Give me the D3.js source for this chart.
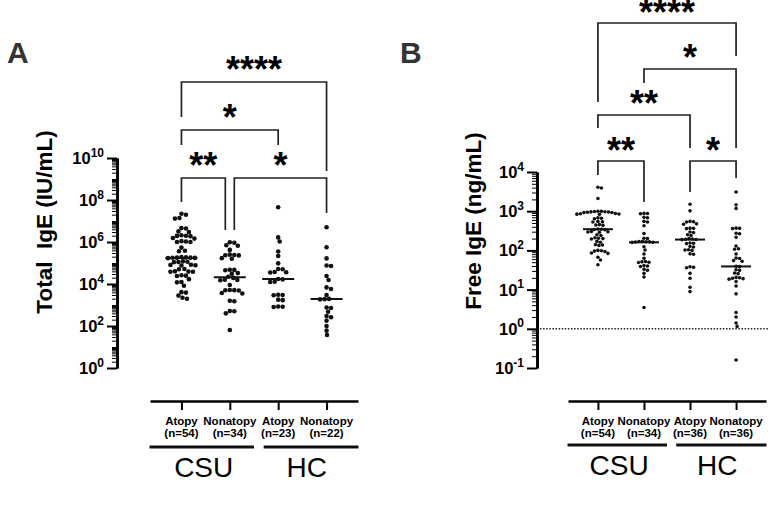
<!DOCTYPE html>
<html>
<head>
<meta charset="utf-8">
<script src="https://cdn.jsdelivr.net/npm/d3@7"></script>
<style>
  body { margin: 0; background: #fff; }
  svg { font-family: "Liberation Sans", Arial, Helvetica, sans-serif; }
</style>
</head>
<body>
<svg id="chart" width="768" height="505"></svg>
<script>
// categories and labels
var cats = ["csuAtopy", "csuNonatopy", "hcAtopy", "hcNonatopy"];
var catNames = ["Atopy", "Nonatopy", "Atopy", "Nonatopy"];
var nTotal = ["(n=54)", "(n=34)", "(n=23)", "(n=22)"];
var nFree = ["(n=54)", "(n=34)", "(n=36)", "(n=36)"];
var groups = ["CSU", "HC"];

// panel A - total IgE (IU/mL)
var totalCsuAtopy = [2.2e7, 2.0e7, 1.4e7, 1.3e7, 4.6e6, 4.4e6, 3.2e6, 3.0e6, 2.1e6, 2.0e6, 1.95e6, 1.9e6,
  1.55e6, 1.45e6, 1.1e6, 1.05e6, 1.0e6, 1.0e6, 5.4e5, 3.8e5, 3.6e5, 1.9e5, 1.85e5, 1.8e5, 1.8e5, 1.78e5,
  1.75e5, 1.7e5, 1.2e5, 1.15e5, 1.12e5, 1.1e5, 8.2e4, 8.0e4, 7.8e4, 7.6e4, 5.2e4, 5.0e4, 4.0e4, 3.9e4,
  3.85e4, 3.8e4, 2.6e4, 2.5e4, 2.4e4, 1.7e4, 1.25e4, 1.2e4, 8.3e3, 4.1e3, 3.9e3, 2.8e3, 2.2e3, 2.0e3];
var totalCsuNonatopy = [9.8e5, 9.2e5, 7.0e5, 6.6e5, 4.2e5, 2.5e5, 2.4e5, 2.35e5, 2.3e5, 1.7e5, 1.6e5,
  4.8e4, 4.7e4, 4.5e4, 3.3e4, 3.1e4, 2.2e4, 1.95e4, 1.6e4, 1.55e4, 1.5e4, 8.9e3, 5.2e3, 5.1e3, 5.0e3,
  4.9e3, 3.7e3, 3.5e3, 1.6e3, 1.5e3, 520, 500, 400, 65];
var totalHcAtopy = [4.5e7, 1.66e6, 1.05e6, 3.5e5, 2.15e5, 9.6e4, 5.2e4, 5.0e4, 3.7e4, 3.6e4, 3.5e4,
  1.74e4, 1.66e4, 1.29e4, 1.25e4, 3.1e3, 3.0e3, 2.9e3, 1.8e3, 1.7e3, 850, 830, 800];
var totalHcNonatopy = [5.0e6, 5.6e5, 1.66e5, 7.6e4, 7.2e4, 2.4e4, 1.55e4, 6.9e3, 5.8e3, 3.0e3, 1.95e3,
  1.9e3, 1.85e3, 760, 720, 480, 300, 260, 180, 100, 60, 37];

// panel B - free IgE (ng/mL)
var freeCsuAtopy = [4100, 3900, 2100, 1000, 990, 980, 970, 960, 950, 940, 930, 920, 870, 860, 850, 840,
  830, 680, 660, 640, 550, 540, 530, 455, 445, 435, 350, 345, 340, 335, 305, 300, 295, 290, 250, 240,
  210, 205, 200, 195, 170, 162, 140, 137, 134, 100, 98, 96, 94, 86, 84, 67, 57, 43];
var freeCsuNonatopy = [880, 870, 860, 700, 680, 550, 530, 425, 270, 205, 200, 170, 168, 166, 165, 164,
  162, 160, 124, 102, 81, 63, 52, 51, 50, 49, 41, 40, 39, 33, 31, 26, 21, 3.5];
var freeHcAtopy = [1500, 1020, 550, 540, 530, 475, 465, 370, 365, 360, 295, 285, 250, 240, 200, 195,
  192, 190, 188, 155, 152, 149, 126, 122, 104, 102, 100, 82, 80, 38, 37, 36, 26, 19.5, 11.5, 8.9];
var freeHcNonatopy = [3100, 1450, 1170, 370, 365, 360, 275, 265, 215, 129, 110, 107, 81, 64, 62, 55,
  53, 39.5, 38.5, 32, 31, 26.5, 25.5, 20.5, 20, 19.5, 19, 18.5, 16, 12.4, 7.8, 2.6, 2.0, 1.4, 1.15, 0.16];

var totalTicks = [1, 1e2, 1e4, 1e6, 1e8, 1e10];
var freeTicks = [0.1, 1, 10, 100, 1000, 10000];

// comparisons: [from, to, label]
var compTotal = [[0, 1, "**"], [1, 3, "*"], [0, 2, "*"], [0, 3, "****"]];
var compFree = [[0, 1, "**"], [2, 3, "*"], [0, 2, "**"], [1, 3, "*"], [0, 3, "****"]];

var svg = d3.select("#chart");

// simple beeswarm: put each dot as close to the centre as it can go
function swarm(vals, y, cx, r) {
  var pts = vals.map(function (v) { return { v: v, y: y(v) }; })
    .sort(function (a, b) { return a.y - b.y; });
  var d = 2 * r * 0.96, placed = [];
  pts.forEach(function (p) {
    for (var k = 0; k < 400; k++) {
      var off = (k % 2 ? 1 : -1) * Math.ceil(k / 2) * 0.5;
      var ok = placed.every(function (q) {
        var dx = q.x - (cx + off), dy = q.y - p.y;
        return dx * dx + dy * dy >= d * d;
      });
      if (ok) { p.x = cx + off; break; }
    }
    placed.push(p);
  });
  return placed;
}

function panel(o) {
  var g = svg.append("g");
  var y = d3.scaleLog().domain(o.domain).range([o.bottom, o.top]);
  var x = d3.scalePoint().domain(cats).range(o.xr).padding(0.65);
  var step = x.step();

  // minor ticks of the log axis
  var minors = [];
  var lo = Math.round(Math.log10(o.domain[0])), hi = Math.round(Math.log10(o.domain[1]));
  for (var k = lo; k < hi; k++) {
    for (var m = 2; m <= 9; m++) minors.push(m * Math.pow(10, k));
    if (o.ticks.indexOf(Math.pow(10, k)) < 0) minors.push(Math.pow(10, k));
  }

  var ya = g.append("g").attr("transform", "translate(" + o.axisX + ",0)");
  ya.call(d3.axisLeft(y).tickValues(minors).tickSize(5).tickSizeOuter(0).tickFormat(""));
  ya.selectAll(".tick line").attr("stroke-width", 1);
  var yb = g.append("g").attr("transform", "translate(" + o.axisX + ",0)");
  yb.call(d3.axisLeft(y).tickValues(o.ticks).tickSize(10).tickSizeOuter(0).tickFormat(""));
  yb.selectAll(".tick line").attr("stroke-width", 2);
  g.selectAll(".domain").attr("stroke-width", 2.6);

  o.ticks.forEach(function (v) {
    var t = g.append("text")
      .attr("x", o.axisX - 13).attr("y", y(v) + 6)
      .attr("text-anchor", "end").attr("font-weight", "bold").attr("font-size", 16.5);
    t.append("tspan").text("10");
    t.append("tspan").attr("dy", -7.5).attr("font-size", 12).text(Math.round(Math.log10(v)));
  });

  // axis title
  g.append("text")
    .attr("transform", "translate(" + o.titleX + "," + o.titleY + ") rotate(-90)")
    .attr("text-anchor", "middle").attr("dy", "0.35em")
    .attr("font-weight", "bold").attr("font-size", 22.5)
    .style("white-space", "pre")
    .text(o.title);

  // reference line
  if (o.refLine) {
    g.append("line")
      .attr("x1", o.axisX + 3).attr("x2", 768)
      .attr("y1", y(o.refLine)).attr("y2", y(o.refLine))
      .attr("stroke", "#222").attr("stroke-width", 1.5).attr("stroke-dasharray", "1.5 1.6");
  }

  // x axis
  var xa = g.append("g").attr("transform", "translate(0," + o.xAxisY + ")")
    .call(d3.axisBottom(x).tickSize(9).tickSizeOuter(0).tickFormat(""));
  xa.select(".domain").attr("stroke-width", 2.4);
  xa.selectAll(".tick line").attr("stroke-width", 2);

  cats.forEach(function (c, i) {
    g.append("text").attr("x", x(c)).attr("y", o.xAxisY + 24)
      .attr("text-anchor", "middle").attr("font-weight", "bold").attr("font-size", 11.5)
      .text(catNames[i]);
    g.append("text").attr("x", x(c)).attr("y", o.xAxisY + 36)
      .attr("text-anchor", "middle").attr("font-weight", "bold").attr("font-size", 11.5)
      .text(o.nLabels[i]);
  });

  // group lines under the axis
  groups.forEach(function (name, gi) {
    var a = x(cats[gi * 2]), b = x(cats[gi * 2 + 1]);
    var x0 = gi === 0 ? a - 0.66 * step : a - 0.3 * step;
    var x1 = gi === 0 ? b + 0.5 * step : b + 0.66 * step;
    g.append("line").attr("x1", x0).attr("x2", x1)
      .attr("y1", o.groupY).attr("y2", o.groupY)
      .attr("stroke", "#111").attr("stroke-width", 3);
    g.append("text").attr("x", ((x0 + x1) / 2 + (a + b) / 2) / 2).attr("y", o.groupY + 30)
      .attr("text-anchor", "middle").attr("font-size", 28)
      .text(name);
  });

  // dots and medians
  o.series.forEach(function (vals, i) {
    var cx = x(cats[i]);
    g.append("g").selectAll("circle")
      .data(swarm(vals, y, cx, o.r))
      .enter().append("circle")
      .attr("cx", function (d) { return d.x; })
      .attr("cy", function (d) { return d.y; })
      .attr("r", o.r)
      .attr("fill", "#111");
    var med = d3.median(vals);
    g.append("line")
      .attr("x1", cx - o.medW / 2).attr("x2", cx + o.medW / 2)
      .attr("y1", y(med)).attr("y2", y(med))
      .attr("stroke", "#111").attr("stroke-width", 2);
  });

  // significance brackets
  o.comps.forEach(function (c, i) {
    var L = o.bracketLayout[i];
    var xa0 = x(cats[c[0]]) + L.dx[0], xa1 = x(cats[c[1]]) + L.dx[1];
    g.append("path")
      .attr("d", "M" + xa0 + "," + L.leg[0] + "V" + L.y + "H" + xa1 + "V" + L.leg[1])
      .attr("fill", "none").attr("stroke", "#222").attr("stroke-width", 1.7);
    g.append("text")
      .attr("x", (xa0 + xa1) / 2).attr("y", L.sy + 17)
      .attr("text-anchor", "middle").attr("font-weight", "bold").attr("font-size", 36)
      .text(c[2]);
  });

  // panel letter
  g.append("text").attr("x", o.letterX).attr("y", 63)
    .attr("font-weight", "bold").attr("font-size", 30).attr("fill", "#333")
    .text(o.letter);
}

panel({
  letter: "A", letterX: 7,
  series: [totalCsuAtopy, totalCsuNonatopy, totalHcAtopy, totalHcNonatopy],
  domain: [1, 1e10], ticks: totalTicks, top: 158, bottom: 368, axisX: 117,
  xr: [150, 358], xAxisY: 401, groupY: 447, r: 2.3, medW: 32,
  title: "Total  IgE (IU/mL)", titleX: 44, titleY: 222,
  nLabels: nTotal, comps: compTotal,
  bracketLayout: [
    { y: 178, leg: [202, 230], dx: [0, -4.5], sy: 161 },
    { y: 178, leg: [230, 213], dx: [4.5, 0], sy: 161 },
    { y: 130, leg: [145, 145], dx: [0, 0], sy: 113 },
    { y: 82, leg: [117, 171], dx: [0, 0], sy: 65 }
  ]
});

panel({
  letter: "B", letterX: 400,
  series: [freeCsuAtopy, freeCsuNonatopy, freeHcAtopy, freeHcNonatopy],
  domain: [0.1, 1e4], ticks: freeTicks, top: 172, bottom: 368, axisX: 537,
  xr: [568, 766], xAxisY: 401, groupY: 445, r: 1.8, medW: 30, refLine: 1,
  title: "Free IgE (ng/mL)", titleX: 473, titleY: 221,
  nLabels: nFree, comps: compFree,
  bracketLayout: [
    { y: 161, leg: [175, 202], dx: [0, 0], sy: 146 },
    { y: 161, leg: [192, 178], dx: [0, 0], sy: 146 },
    { y: 115, leg: [128, 148], dx: [0, 0], sy: 99 },
    { y: 69, leg: [83, 148], dx: [0, 0], sy: 53 },
    { y: 23, leg: [102, 56], dx: [0, 0], sy: 7.5 }
  ]
});
</script>
</body>
</html>
